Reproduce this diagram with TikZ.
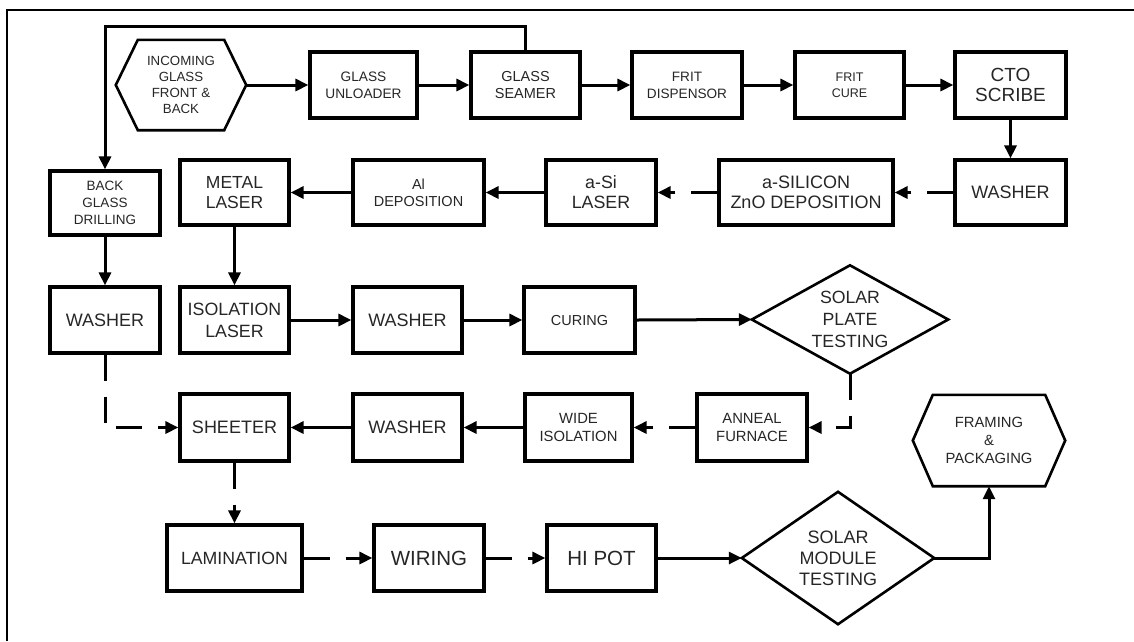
\documentclass[tikz,border=0pt]{standalone}
\usepackage{fontspec}
\setmainfont{Liberation Sans}
\usetikzlibrary{arrows.meta}
\newcommand\setfs[2]{\fontsize{#1}{#2}\selectfont}
\tikzset{
  box/.style={draw, line width=3.2pt, inner sep=0pt, align=center, text=black!85},
  shp/.style={inner sep=0pt, align=center, text=black!85},
  outline/.style={line width=2.6pt, line join=miter},
  link/.style={line width=3pt, line join=miter},
  arr/.style={link, -{Triangle[length=13pt,width=12pt]}},
  darr/.style={arr, dash pattern=on 26pt off 16pt},
}
\begin{document}
\begin{tikzpicture}[x=1pt,y=-1pt]
\useasboundingbox (0,0) rectangle (1134,641);
% page frame (top and left edges)
\draw[line width=2pt] (7,641) -- (7,10) -- (1134,10);

% ---- row 1
\node[shp, minimum width=130pt, minimum height=90pt, font=\setfs{13.3}{16}] (inc) at (181,85)
  {INCOMING\\GLASS\\FRONT \&\\BACK};
\draw[outline] (inc.west) -- ([xshift=22pt]inc.north west) -- ([xshift=-22pt]inc.north east)
  -- (inc.east) -- ([xshift=-22pt]inc.south east) -- ([xshift=22pt]inc.south west) -- cycle;
\node[box, minimum width=107pt, minimum height=66pt, font=\setfs{13.7}{17}] (gu) at (363.5,85)
  {GLASS\\UNLOADER};
\node[box, minimum width=109pt, minimum height=66pt, font=\setfs{14.5}{17}] (gs) at (525.5,85)
  {GLASS\\SEAMER};
\node[box, minimum width=110pt, minimum height=66pt, font=\setfs{13.6}{17}] (fd) at (687,85)
  {FRIT\\DISPENSOR};
\node[box, minimum width=109pt, minimum height=66pt, font=\setfs{12.5}{16}] (fc) at (849.5,85)
  {FRIT\\CURE};
\node[box, minimum width=111pt, minimum height=66pt, font=\setfs{19}{20}] (cto) at (1010.5,85)
  {CTO\\SCRIBE};

% ---- row 2
\node[box, minimum width=110pt, minimum height=64pt, font=\setfs{13.5}{17}] (bgd) at (105,203)
  {BACK\\GLASS\\DRILLING};
\node[box, minimum width=109pt, minimum height=65pt, font=\setfs{17.5}{20}] (ml) at (234.5,192.5)
  {METAL\\LASER};
\node[box, minimum width=131pt, minimum height=65pt, font=\setfs{14.5}{17}] (ald) at (418.5,192.5)
  {Al\\DEPOSITION};
\node[box, minimum width=110pt, minimum height=65pt, font=\setfs{17.8}{20}] (asl) at (601,192.5)
  {a-Si\\LASER};
\node[box, minimum width=174pt, minimum height=65pt, font=\setfs{18}{20}] (asz) at (806,192.5)
  {a-SILICON\\ZnO DEPOSITION};
\node[box, minimum width=111pt, minimum height=65pt, font=\setfs{18}{20}] (wr) at (1010.5,192.5)
  {WASHER};

% ---- row 3
\node[box, minimum width=110pt, minimum height=66pt, font=\setfs{18}{20}] (wl) at (105,320)
  {WASHER};
\node[box, minimum width=109pt, minimum height=66pt, font=\setfs{17.8}{22}] (il) at (234.5,320)
  {ISOLATION\\LASER};
\node[box, minimum width=109pt, minimum height=66pt, font=\setfs{18}{20}] (wm) at (407.5,320)
  {WASHER};
\node[box, minimum width=111pt, minimum height=66pt, font=\setfs{14.5}{17}] (cur) at (579.5,320)
  {CURING};
\node[shp, minimum width=196pt, minimum height=108pt, font=\setfs{17.7}{21.7}] (spt) at (850,319.5)
  {SOLAR\\PLATE\\TESTING};
\draw[outline] (spt.west) -- (spt.north) -- (spt.east) -- (spt.south) -- cycle;

% ---- row 4
\node[box, minimum width=109pt, minimum height=67pt, font=\setfs{18}{20}] (sh) at (234.5,427.5)
  {SHEETER};
\node[box, minimum width=109pt, minimum height=67pt, font=\setfs{18}{20}] (wm4) at (407.5,427.5)
  {WASHER};
\node[box, minimum width=107pt, minimum height=67pt, font=\setfs{14.8}{18}] (wi) at (578.5,427.5)
  {WIDE\\ISOLATION};
\node[box, minimum width=110pt, minimum height=67pt, font=\setfs{14.8}{18}] (an) at (752,427.5)
  {ANNEAL\\FURNACE};
\node[shp, minimum width=152pt, minimum height=91pt, font=\setfs{14.8}{18}] (fp) at (989,440.5)
  {FRAMING\\\&\\PACKAGING};
\draw[outline] (fp.west) -- ([xshift=20pt]fp.north west) -- ([xshift=-20pt]fp.north east)
  -- (fp.east) -- ([xshift=-20pt]fp.south east) -- ([xshift=20pt]fp.south west) -- cycle;

% ---- row 5
\node[box, minimum width=135pt, minimum height=66pt, font=\setfs{17.7}{20}] (lam) at (234.5,558)
  {LAMINATION};
\node[box, minimum width=110pt, minimum height=66pt, font=\setfs{20.5}{22}] (wir) at (429,558)
  {WIRING};
\node[box, minimum width=109pt, minimum height=66pt, font=\setfs{20.5}{22}] (hp) at (601.5,558)
  {HI POT};
\node[shp, minimum width=192pt, minimum height=132pt, font=\setfs{18}{21}] (smt) at (838,558)
  {SOLAR\\MODULE\\TESTING};
\draw[outline] (smt.west) -- (smt.north) -- (smt.east) -- (smt.south) -- cycle;

% ---- connectors
\coordinate (fb) at (105,26);
\draw[arr] (inc.east) -- (gu.west);
\draw[arr] (gu.east) -- (gs.west);
\draw[arr] (gs.east) -- (fd.west);
\draw[arr] (fd.east) -- (fc.west);
\draw[arr] (fc.east) -- (cto.west);
\draw[arr] (gs.north) |- (fb) -- (bgd.north);
\draw[arr] (cto.south) -- (wr.north);

\draw[darr] (wr.west) -- (asz.east);
\draw[darr] (asz.west) -- (asl.east);
\draw[arr] (asl.west) -- (ald.east);
\draw[arr] (ald.west) -- (ml.east);

\draw[arr] (bgd.south) -- (wl.north);
\draw[arr] (ml.south) -- (il.north);
\draw[arr] (il.east) -- (wm.west);
\draw[arr] (wm.east) -- (cur.west);
\draw[arr] (cur.east) -- (spt.west);

\draw[darr] (spt.south) |- (an.east);
\draw[darr] (an.west) -- (wi.east);
\draw[arr] (wi.west) -- (wm4.east);
\draw[arr] (wm4.west) -- (sh.east);
\draw[darr] (wl.south) |- (sh.west);

\draw[darr] (sh.south) -- (lam.north);
\draw[darr] (lam.east) -- (wir.west);
\draw[darr] (wir.east) -- (hp.west);
\draw[arr] (hp.east) -- (smt.west);
\draw[arr] (smt.east) -| (fp.south);
\end{tikzpicture}
\end{document}
